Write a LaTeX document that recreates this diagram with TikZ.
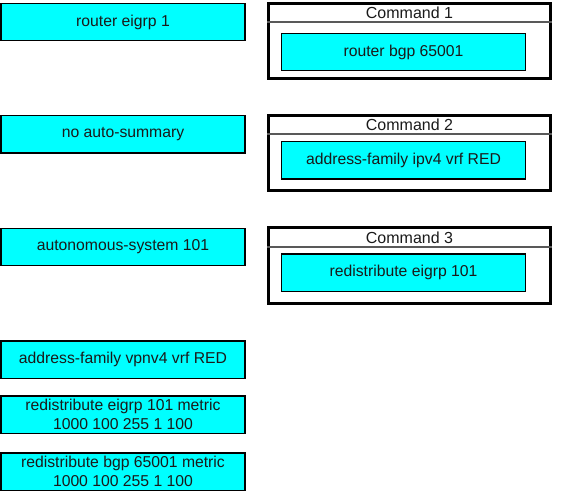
\documentclass[tikz,border=0pt]{standalone}
\usepackage{fontspec}
\setmainfont{Liberation Sans}
\definecolor{boxcyan}{HTML}{00FFFF}
\definecolor{txt}{HTML}{1A1A1A}
\begin{document}
\begin{tikzpicture}[x=0.75pt,y=-0.75pt,
  cmd/.style={draw=black,line width=1pt,fill=boxcyan,minimum width=183pt,minimum height=28pt,
    inner sep=0pt,align=center,text=txt,font=\fontsize{11.8}{14.2}\selectfont},
  outer/.style={draw=black,line width=2.2pt,minimum width=211.5pt,minimum height=56.5pt,inner sep=0pt},
  head/.style={minimum width=211.5pt,inner sep=0pt,text=txt,font=\fontsize{12}{14.4}\selectfont},
  sep/.style={draw=gray!70!black,line width=0.8pt}]
\useasboundingbox (0,0) rectangle (566,502);
% left column
\node[cmd] (l1) at (123,22) {router eigrp 1};
\node[cmd] (l2) at (123,134.5) {no auto-summary};
\node[cmd] (l3) at (123,247) {autonomous-system 101};
\node[cmd] (l4) at (123,359.5) {address-family vpnv4 vrf RED};
\node[cmd] (l5) at (123,414.5) {redistribute eigrp 101 metric\\1000 100 255 1 100};
\node[cmd] (l6) at (123,471.5) {redistribute bgp 65001 metric\\1000 100 255 1 100};
% right containers
\node[outer] (o1) at (409.5,41) {};
\node[head] (h1) at (409.5,12.5) {Command 1};
\coordinate (s1w) at (o1.west |- 0,22);
\coordinate (s1e) at (o1.east |- 0,22);
\draw[sep] (s1w) -- (s1e);
\node[cmd] (r1) at (403.5,52) {router bgp 65001};

\node[outer] (o2) at (409.5,153) {};
\node[head] (h2) at (409.5,125) {Command 2};
\coordinate (s2w) at (o2.west |- 0,134);
\coordinate (s2e) at (o2.east |- 0,134);
\draw[sep] (s2w) -- (s2e);
\node[cmd] (r2) at (403.5,160.5) {address-family ipv4 vrf RED};

\node[outer] (o3) at (409.5,265.5) {};
\node[head] (h3) at (409.5,237.5) {Command 3};
\coordinate (s3w) at (o3.west |- 0,247);
\coordinate (s3e) at (o3.east |- 0,247);
\draw[sep] (s3w) -- (s3e);
\node[cmd] (r3) at (403.5,272.5) {redistribute eigrp 101};
\end{tikzpicture}
\end{document}
